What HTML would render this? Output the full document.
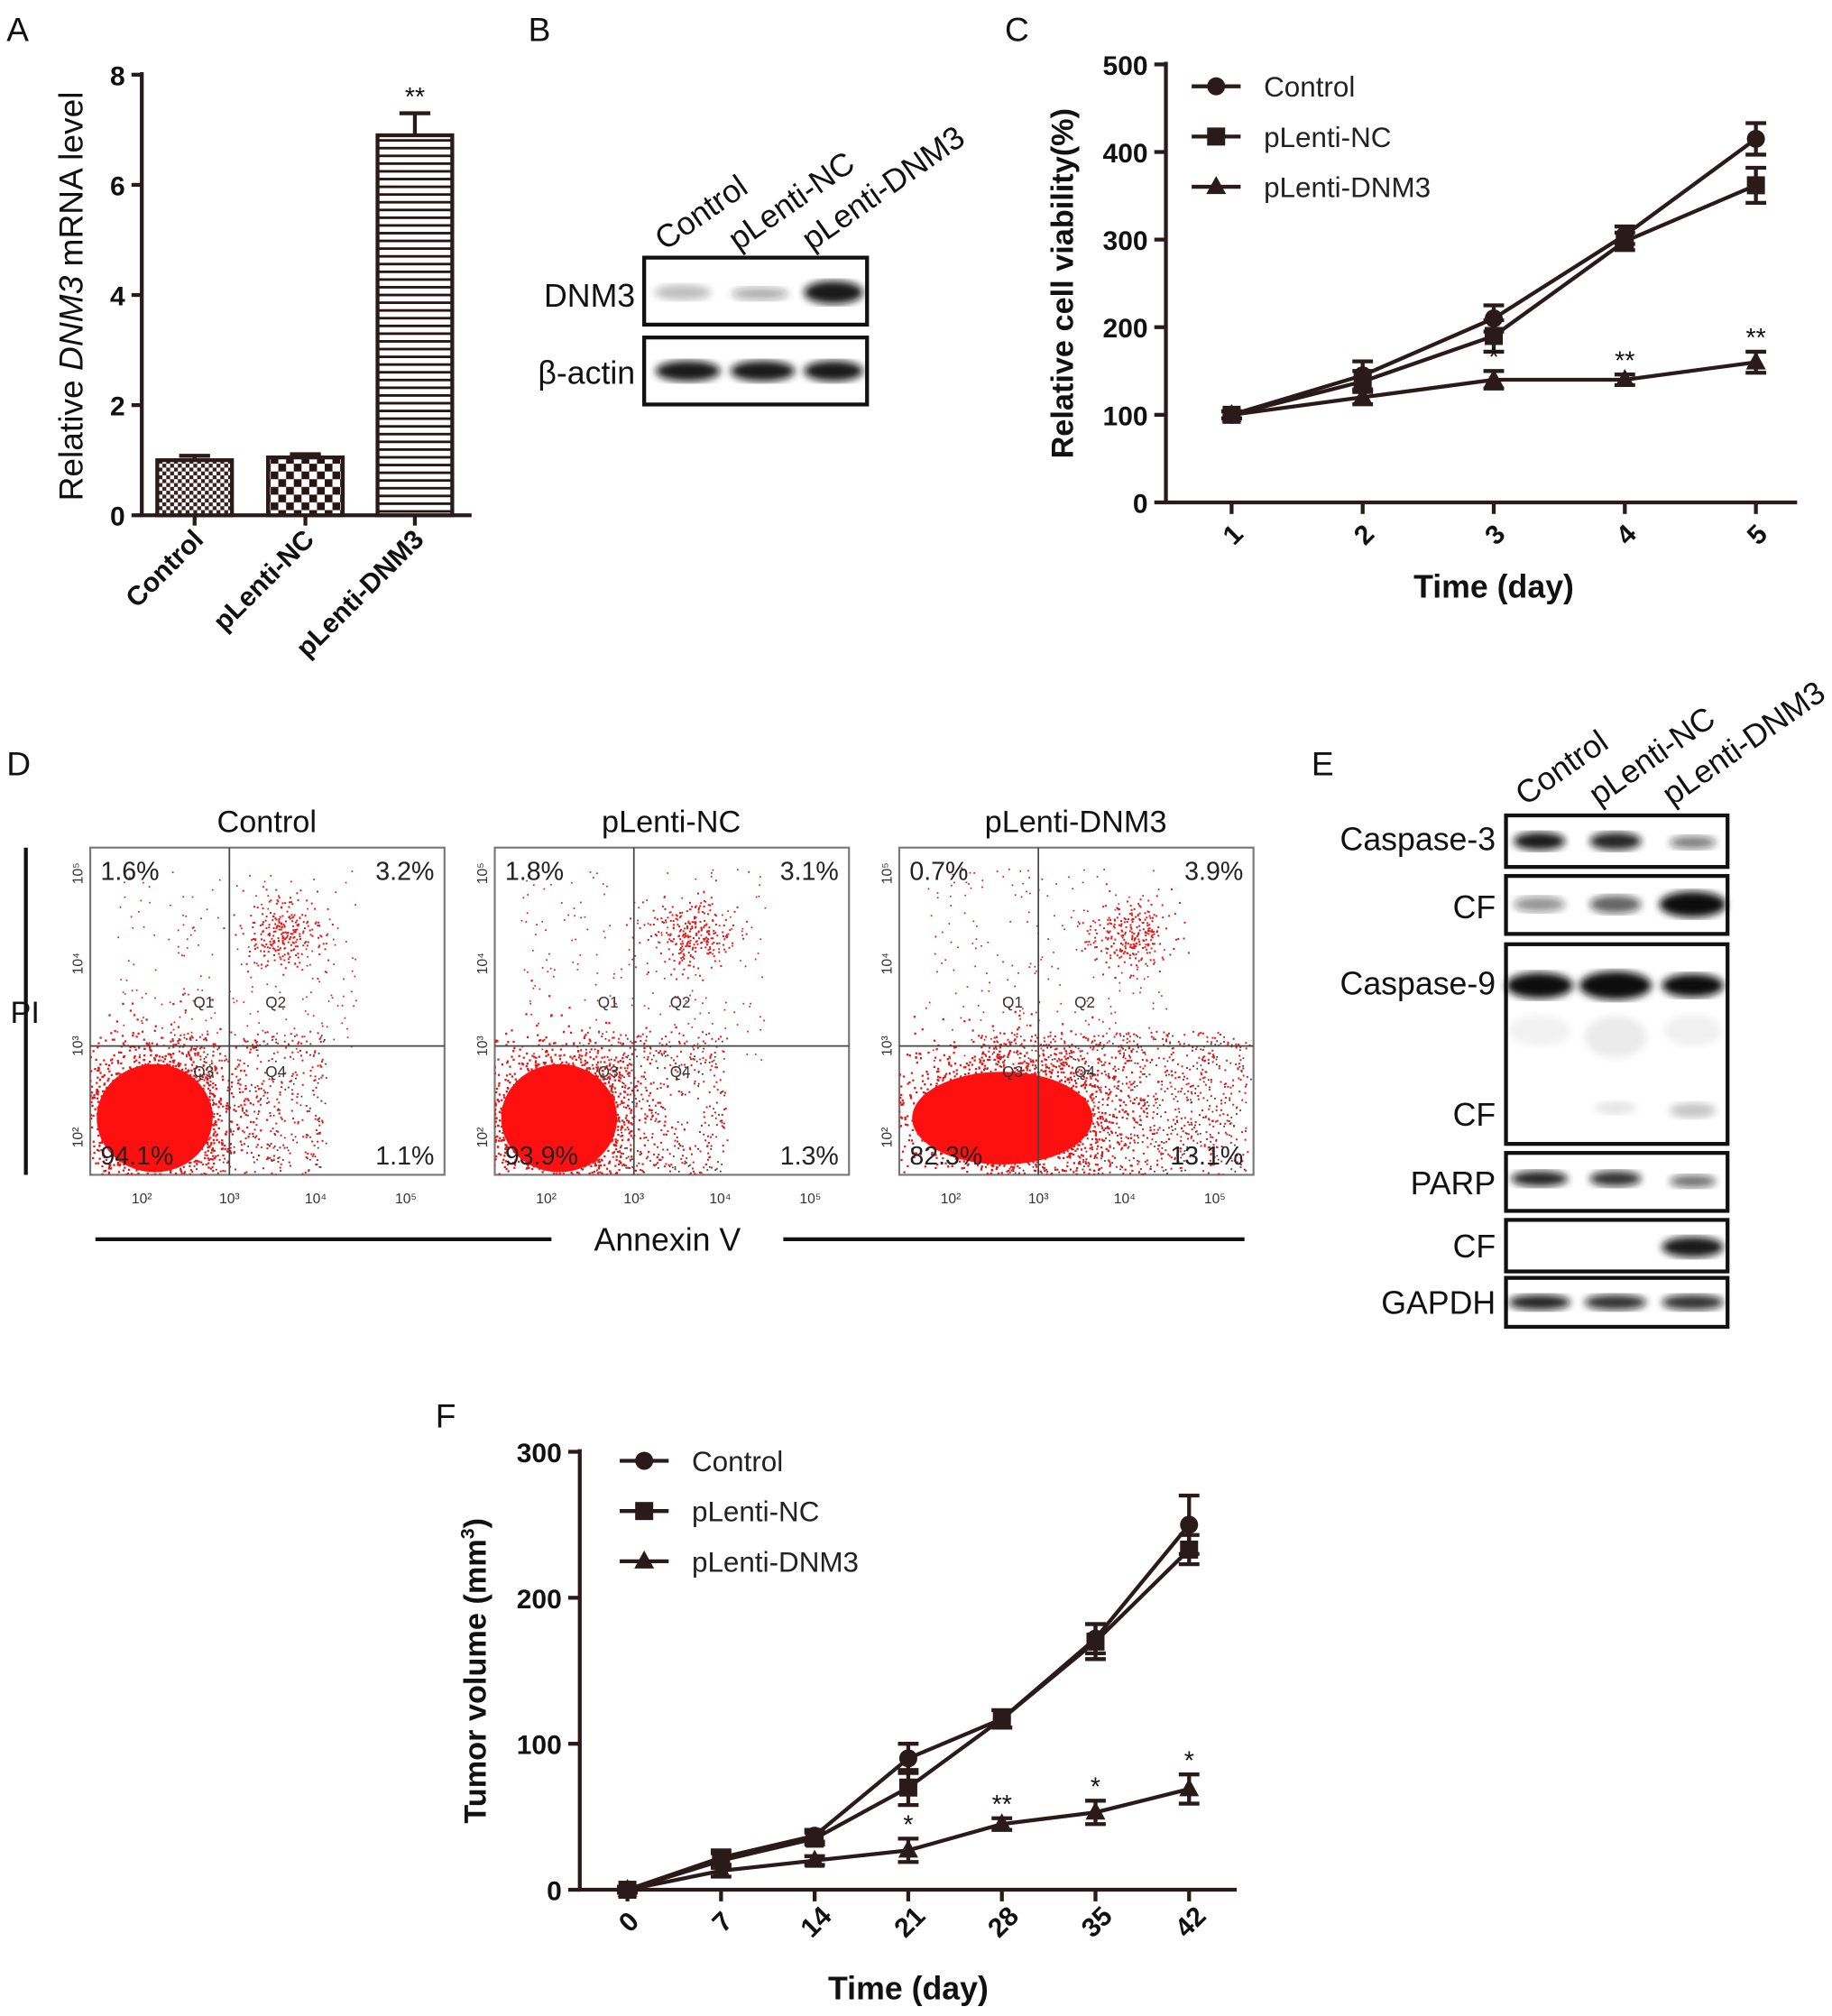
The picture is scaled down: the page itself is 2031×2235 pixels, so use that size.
<!DOCTYPE html>
<html><head><meta charset="utf-8"><style>
html,body{margin:0;padding:0;background:#fff;}
svg{display:block;font-family:"Liberation Sans",Arial,sans-serif;}
.b{font-weight:bold}
</style></head><body>
<svg id="fig" width="2031" height="2235" viewBox="0 0 1422 1565" xmlns="http://www.w3.org/2000/svg">
<defs>
<pattern id="pChk1" width="6" height="6" patternUnits="userSpaceOnUse"><rect width="6" height="6" fill="#fff"/><rect width="3" height="3" fill="#3a2020"/><rect x="3" y="3" width="3" height="3" fill="#3a2020"/></pattern>
<pattern id="pChk2" width="12" height="12" patternUnits="userSpaceOnUse"><rect width="12" height="12" fill="#fff"/><rect width="6" height="6" fill="#2a1515"/><rect x="6" y="6" width="6" height="6" fill="#2a1515"/></pattern>
<pattern id="pStr" width="8" height="6" patternUnits="userSpaceOnUse"><rect width="8" height="6" fill="#fff"/><rect y="0" width="8" height="2" fill="#2a1515"/></pattern>
<filter id="blur2"><feGaussianBlur stdDeviation="3"/></filter>
<clipPath id="cp0"><rect x="70" y="658" width="275" height="254"/></clipPath>
<clipPath id="cp1"><rect x="384" y="658" width="275" height="254"/></clipPath>
<clipPath id="cp2"><rect x="698" y="658" width="275" height="254"/></clipPath>
</defs>
<g id="root"></g>
</svg>
<script>
const NS="http://www.w3.org/2000/svg";
const root=document.getElementById('root');
function mk(tag,attrs,parent,text){const e=document.createElementNS(NS,tag);for(const k in attrs)e.setAttribute(k,attrs[k]);if(text!==undefined)e.textContent=text;(parent||root).appendChild(e);return e;}
const C="#2b1a1a";

// ---------- Panel A data ----------
const aCats=["Control","pLenti-NC","pLenti-DNM3"];
const aVals=[1.0,1.05,6.9];
const aErr=[0.08,0.06,0.4];
const aTicks=[0,2,4,6,8];
// ---------- Panel C data ----------
const cDays=[1,2,3,4,5];
const cControl=[100,145,210,305,415];
const cNC=[100,138,190,298,362];
const cDNM3=[100,120,140,140,160];
const cErrCtrl=[4,16,15,10,18];
const cErrNC=[4,12,18,10,20];
const cErrD=[4,8,10,6,12];
const cTicks=[0,100,200,300,400,500];
const cStars=["","","*","**","**"];
// ---------- Panel F data ----------
const fDays=[0,7,14,21,28,35,42];
const fControl=[0,22,37,90,117,172,250];
const fNC=[0,20,35,70,117,170,233];
const fDNM3=[0,13,20,27,45,53,69];
const fErrCtrl=[2,5,4,10,6,10,20];
const fErrNC=[2,5,4,12,6,12,10];
const fErrD=[2,4,3,8,4,8,10];
const fTicks=[0,100,200,300];
const fStars=["","","","*","**","*","*"];
// ---------- Panel D data ----------
const dTitles=["Control","pLenti-NC","pLenti-DNM3"];
const dQ1=["1.6%","1.8%","0.7%"];
const dQ2=["3.2%","3.1%","3.9%"];
const dQ3=["94.1%","93.9%","82.3%"];
const dQ4=["1.1%","1.3%","13.1%"];

[["A",5,32],["B",410,32],["C",780,32],["D",5,602],["E",1018,602],["F",338,1108]].forEach(([t,x,y])=>{
 const e=mk('text',{x:x,y:y,'font-size':26,fill:'#111'},root,t);
 
 
});

// ===== Panel A =====
(function(){
 const g=mk('g',{});
 
 const y=v=>400-v*42.75, x0=110, xs=[151,237,322], bw=58;
 mk('line',{x1:x0,y1:56,x2:x0,y2:401,stroke:C,'stroke-width':3},g);
 mk('line',{x1:x0-1,y1:400,x2:366,y2:400,stroke:C,'stroke-width':3},g);
 aTicks.forEach(t=>{mk('line',{x1:x0-8,y1:y(t),x2:x0,y2:y(t),stroke:C,'stroke-width':3},g);
  const e=mk('text',{x:x0-13,y:y(t)+8,'font-size':21,'text-anchor':'end',class:'b',fill:'#111'},g,t);
  });
 const fills=['url(#pChk1)','url(#pChk2)','url(#pStr)'];
 aCats.forEach((c,i)=>{
  const ey=y(aVals[i]+aErr[i]);
  mk('line',{x1:xs[i],y1:ey,x2:xs[i],y2:y(aVals[i]),stroke:C,'stroke-width':3},g);
  mk('line',{x1:xs[i]-12,y1:ey,x2:xs[i]+12,y2:ey,stroke:C,'stroke-width':3},g);
  const r=mk('rect',{x:xs[i]-bw/2,y:y(aVals[i]),width:bw,height:400-y(aVals[i]),fill:fills[i],stroke:C,'stroke-width':3},g);
  
  mk('line',{x1:xs[i],y1:400,x2:xs[i],y2:408,stroke:C,'stroke-width':3},g);
  const t=mk('text',{transform:`translate(${xs[i]+8},420) rotate(-45)`,'font-size':21,'text-anchor':'end',class:'b',fill:'#111'},g,c);
  
 });
 mk('text',{x:xs[2],y:y(aVals[2]+aErr[2])-6,'font-size':20,'text-anchor':'middle',fill:'#111'},g,'**');
 const yl=mk('text',{transform:'translate(64,230) rotate(-90)','font-size':26,'text-anchor':'middle',fill:'#111'},g);
 
 mk('tspan',{},yl,'Relative ');mk('tspan',{'font-style':'italic'},yl,'DNM3');mk('tspan',{},yl,' mRNA level');
})();

function blot(g,x,y,w,h,bands){
 mk('rect',{x:x,y:y,width:w,height:h,fill:'#fff',stroke:'#111','stroke-width':3},g);
 bands.forEach(b=>mk('ellipse',{cx:b[0],cy:b[1],rx:b[2],ry:b[3],fill:'#111','fill-opacity':b[4],filter:'url(#blur2)'},g));
}
(function(){
 const g=mk('g',{});
 ["Control","pLenti-NC","pLenti-DNM3"].forEach((t,i)=>{mk('text',{transform:`translate(${516+57*i},195) rotate(-35)`,'font-size':25,fill:'#111'},g,t);});
 blot(g,500,200,173,52,[[530,227,22,6,0.25],[590,228,22,5,0.35],[647,227,23,9,0.95]]);
 blot(g,500,262,173,52,[[534,288,25,8,0.95],[592,288,25,8,0.95],[647,288,23,8,0.95]]);
 mk('text',{x:493,y:238,'font-size':25,'text-anchor':'end',fill:'#111'},g,'DNM3');
 mk('text',{x:493,y:298,'font-size':25,'text-anchor':'end',fill:'#111'},g,'β-actin');
})();

function marker(g,type,x,y,s){
 if(type==='c')return mk('circle',{cx:x,cy:y,r:s,fill:C},g);
 if(type==='s')return mk('rect',{x:x-s,y:y-s,width:2*s,height:2*s,fill:C},g);
 return mk('polygon',{points:`${x},${y-s*1.2} ${x+s*1.1},${y+s*0.8} ${x-s*1.1},${y+s*0.8}`,fill:C},g);
}
function lineChart(o){
 const g=mk('g',{});
 const y=v=>o.y0-(v-o.ymin)/(o.ymax-o.ymin)*(o.y0-o.y1);
 const x=i=>o.xa+i*(o.xb-o.xa)/(o.cats.length-1);
 mk('line',{x1:o.ax,y1:o.y1-2,x2:o.ax,y2:o.y0+1,stroke:C,'stroke-width':3},g);
 mk('line',{x1:o.ax-1,y1:o.y0,x2:o.axr,y2:o.y0,stroke:C,'stroke-width':3},g);
 o.ticks.forEach(t=>{mk('line',{x1:o.ax-9,y1:y(t),x2:o.ax,y2:y(t),stroke:C,'stroke-width':3},g);
  const e=mk('text',{x:o.ax-14,y:y(t)+8,'font-size':21,'text-anchor':'end',class:'b',fill:'#111'},g,t);
  });
 o.cats.forEach((c,i)=>{mk('line',{x1:x(i),y1:o.y0,x2:x(i),y2:o.y0+9,stroke:C,'stroke-width':3},g);
  const e=mk('text',{transform:`translate(${x(i)+6},${o.y0+30}) rotate(-45)`,'font-size':21,'text-anchor':'middle',class:'b',fill:'#111'},g,c);
  });
 const series=[[o.s1,o.e1,'c','control'],[o.s2,o.e2,'s','plenti-nc'],[o.s3,o.e3,'t','plenti-dnm3']];
 series.forEach(([s,e,m,n])=>{
  const p=mk('polyline',{points:s.map((v,i)=>x(i)+','+y(v)).join(' '),fill:'none',stroke:C,'stroke-width':3},g);
  
  s.forEach((v,i)=>{const a=y(v+e[i]),b=y(v-e[i]);
   mk('line',{x1:x(i),y1:a,x2:x(i),y2:b,stroke:C,'stroke-width':3},g);
   mk('line',{x1:x(i)-8,y1:a,x2:x(i)+8,y2:a,stroke:C,'stroke-width':3},g);
   mk('line',{x1:x(i)-8,y1:b,x2:x(i)+8,y2:b,stroke:C,'stroke-width':3},g);
   const mm=marker(g,m,x(i),y(v),7);});
 });
 o.stars.forEach((st,i)=>{if(st)mk('text',{x:x(i),y:y(o.s3[i]+o.e3[i])-4,'font-size':20,'text-anchor':'middle',fill:'#111'},g,st);});
 const names=["Control","pLenti-NC","pLenti-DNM3"],ms=['c','s','t'];
 names.forEach((n,i)=>{const ly=o.ly+i*39;
  const lg=mk('g',{},g);
  mk('line',{x1:o.lx,y1:ly,x2:o.lx+38,y2:ly,stroke:C,'stroke-width':3},lg);marker(lg,ms[i],o.lx+19,ly,7);
  mk('text',{x:o.lx+56,y:ly+8,'font-size':22,fill:'#222'},lg,n);});
 const yt=mk('text',{transform:`translate(${o.ytx},${(o.y0+o.y1)/2}) rotate(-90)`,'font-size':24,'text-anchor':'middle',class:'b',fill:'#111'},g);
 
 if(o.sup){mk('tspan',{},yt,'Tumor volume (mm');mk('tspan',{'font-size':15,dy:-9},yt,'3');mk('tspan',{dy:9},yt,')');}else yt.textContent=o.ytitle;
 const xt=mk('text',{x:(o.xa+o.xb)/2,y:o.xty,'font-size':25,'text-anchor':'middle',class:'b',fill:'#111'},g,'Time (day)');
 
}
lineChart({name:'panel-c-cell-viability-chart',cats:cDays,s1:cControl,s2:cNC,s3:cDNM3,e1:cErrCtrl,e2:cErrNC,e3:cErrD,ticks:cTicks,stars:cStars,
 ymin:0,ymax:500,y0:390,y1:50,ax:905,axr:1395,xa:956,xb:1363,lx:925,ly:67,ytx:833,ytitle:'Relative cell viability(%)',xty:464});
lineChart({name:'panel-f-tumor-volume-chart',cats:fDays,s1:fControl,s2:fNC,s3:fDNM3,e1:fErrCtrl,e2:fErrNC,e3:fErrD,ticks:fTicks,stars:fStars,
 ymin:0,ymax:300,y0:1467,y1:1127,ax:450,axr:960,xa:487,xb:923,lx:481,ly:1134,ytx:377,sup:true,xty:1552});

// ===== Panel D =====
(function(){
 const g=mk('g',{});
 let seed=12345;const rnd=()=>{seed=(seed*16807)%2147483647;return seed/2147483647;};
 const gauss=()=>{let u=rnd()||1e-6,v=rnd();return Math.sqrt(-2*Math.log(u))*Math.cos(2*Math.PI*v);};
 const lefts=[70,384,698];
 lefts.forEach((L,k)=>{
  const T=658,W=275,H=254,qx=L+108,qy=812;
  const p=mk('g',{},g);
  mk('text',{x:L+137,y:646,'font-size':24,'text-anchor':'middle',fill:'#111'},p,dTitles[k]);
  mk('rect',{x:L,y:T,width:W,height:H,fill:'#fff',stroke:'#777','stroke-width':1.5},p);
  const cg=mk('g',{'clip-path':`url(#cp${k})`},p);
  let d='',dk='';
  const bx=k==2?L+85:L+50;
  for(let i=0;i<1800;i++){const x=bx+gauss()*(k==2?45:30),y=865+gauss()*28;d+=`M${x.toFixed(1)},${y.toFixed(1)}h1.6v1.6h-1.6z`;}
  for(let i=0;i<(k==2?900:400);i++){const x=L+60+rnd()*(k==2?210:120),y=800+rnd()*112;d+=`M${x.toFixed(1)},${y.toFixed(1)}h1.4v1.4h-1.4z`;if(i%3==0)dk+=`M${(x+3).toFixed(1)},${(y+2).toFixed(1)}h1.2v1.2h-1.2z`;}
  for(let i=0;i<260;i++){const x=L+150+gauss()*16+(k==2?28:0),y=725+gauss()*14;d+=`M${x.toFixed(1)},${y.toFixed(1)}h1.4v1.4h-1.4z`;}
  for(let i=0;i<200;i++){const x=L+20+rnd()*190,y=T+15+rnd()*150;d+=`M${x.toFixed(1)},${y.toFixed(1)}h1.2v1.2h-1.2z`;}
  mk('path',{d:dk,fill:'#333'},cg);
  mk('path',{d:d,fill:'#e01818'},cg);
  mk('ellipse',{cx:bx-(k==2?5:0),cy:868,rx:k==2?70:45,ry:k==2?36:42,fill:'#ff1010'},cg);
  mk('line',{x1:qx,y1:T,x2:qx,y2:T+H,stroke:'#444','stroke-width':1.2},p);
  mk('line',{x1:L,y1:qy,x2:L+W,y2:qy,stroke:'#444','stroke-width':1.2},p);
  mk('text',{x:L+8,y:T+25,'font-size':20,fill:'#222'},p,dQ1[k]);
  mk('text',{x:L+W-8,y:T+25,'font-size':20,'text-anchor':'end',fill:'#222'},p,dQ2[k]);
  mk('text',{x:L+8,y:T+H-8,'font-size':20,fill:'#222'},p,dQ3[k]);
  mk('text',{x:L+W-8,y:T+H-8,'font-size':20,'text-anchor':'end',fill:'#222'},p,dQ4[k]);
  [['Q1',qx-20,782],['Q2',qx+36,782],['Q3',qx-20,836],['Q4',qx+36,836]].forEach(q=>mk('text',{x:q[1],y:q[2],'font-size':12,'text-anchor':'middle',fill:'#333'},p,q[0]));
  [["10²",L+40],["10³",qx],["10⁴",L+175],["10⁵",L+245]].forEach(a=>mk('text',{x:a[1],y:T+H+22,'font-size':11,'text-anchor':'middle',fill:'#333'},p,a[0]));
  [["10⁵",T+20],["10⁴",T+90],["10³",qy],["10²",T+225]].forEach(a=>mk('text',{transform:`translate(${L-6},${a[1]}) rotate(-90)`,'font-size':11,'text-anchor':'middle',fill:'#333'},p,a[0]));
 });
 mk('line',{x1:20,y1:658,x2:20,y2:912,stroke:'#111','stroke-width':3},g);
 mk('text',{x:8,y:794,'font-size':24,fill:'#111'},g,'PI');
 mk('line',{x1:74,y1:962,x2:428,y2:962,stroke:'#111','stroke-width':3},g);
 mk('line',{x1:608,y1:962,x2:966,y2:962,stroke:'#111','stroke-width':3},g);
 mk('text',{x:518,y:971,'font-size':25,'text-anchor':'middle',fill:'#111'},g,'Annexin V');
})();

// ===== Panel E =====
(function(){
 const g=mk('g',{});
 ["Control","pLenti-NC","pLenti-DNM3"].forEach((t,i)=>mk('text',{transform:`translate(${1184+57*i},626) rotate(-35)`,'font-size':25,fill:'#111'},g,t));
 const xs=[1195,1254,1314];
 blot(g,1169,633,172,40,[[xs[0],653,20,7,0.95],[xs[1],653,20,7,0.9],[xs[2],654,18,5,0.55]]);
 blot(g,1169,680,172,45,[[xs[0],702,20,6,0.45],[xs[1],702,20,7,0.65],[xs[2],702,26,10,1]]);
 blot(g,1169,733,172,155,[[xs[0],765,26,10,1],[xs[1],765,28,11,1],[xs[2],765,24,9,1],[xs[0],800,24,12,0.05],[xs[1],805,24,16,0.08],[xs[2],800,22,12,0.06],[xs[2],862,18,6,0.22],[xs[1],860,16,5,0.1]]);
 blot(g,1169,895,172,45,[[xs[0],915,22,6,0.9],[xs[1],915,20,6,0.85],[xs[2],917,18,5,0.6]]);
 blot(g,1169,947,172,40,[[xs[2],968,24,8,0.95]]);
 blot(g,1169,992,172,38,[[xs[0],1011,24,6,0.9],[xs[1],1011,24,6,0.85],[xs[2],1011,24,6,0.85]]);
 [["Caspase-3",660],["CF",713],["Caspase-9",772],["CF",874],["PARP",927],["CF",976],["GAPDH",1020]].forEach(a=>{
  const t=mk('text',{x:1161,y:a[1],'font-size':25,'text-anchor':'end',fill:'#111'},g,a[0]);
  });
})();
</script>
</body></html>
